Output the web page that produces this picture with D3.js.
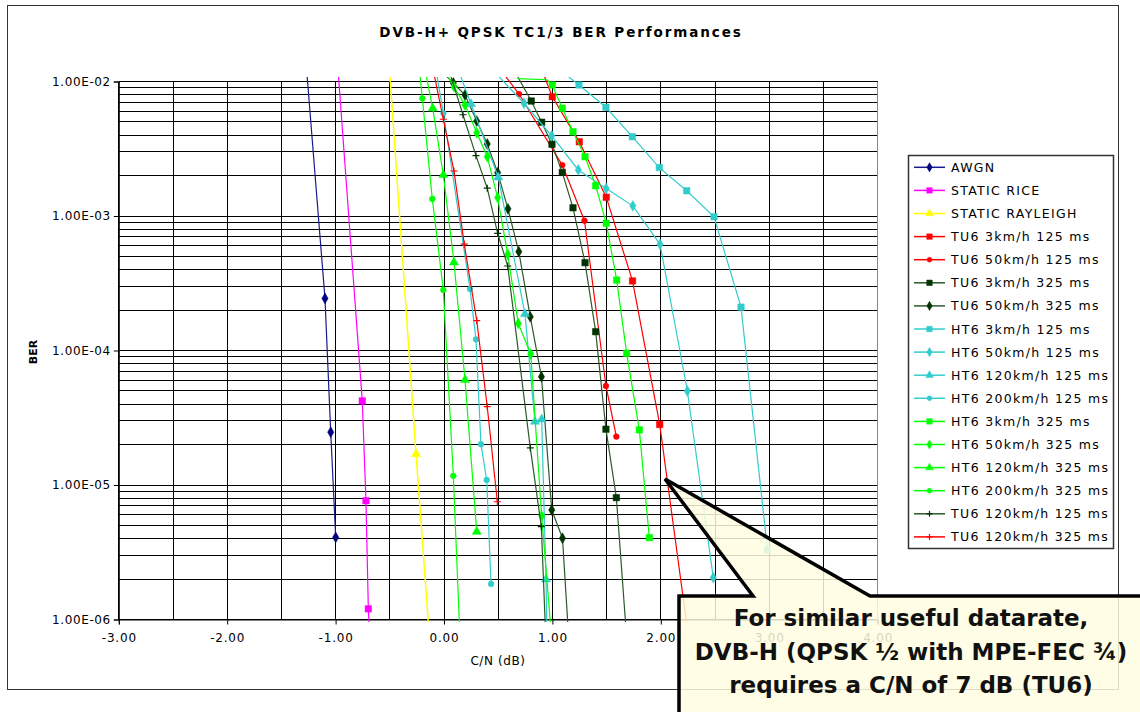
<!DOCTYPE html>
<html>
<head>
<meta charset="utf-8">
<script src="https://cdn.jsdelivr.net/npm/d3@7/dist/d3.min.js"></script>
<style>
  html, body { margin: 0; padding: 0; background: #fff; }
  svg { display: block; font-family: "DejaVu Sans", Verdana, sans-serif; }
</style>
</head>
<body>
<svg id="chart" width="1140" height="712"></svg>
<script>
// ---------------- data ----------------
const chartTitle = "DVB-H+ QPSK TC1/3 BER Performances";
const xLabel = "C/N (dB)";
const yLabel = "BER";
const xTickValues = [-3, -2, -1, 0, 1, 2, 3, 4];
const xTickLabels = ["-3.00", "-2.00", "-1.00", "0.00", "1.00", "2.00", "3.00", "4.00"];
const yTickValues = [1e-2, 1e-3, 1e-4, 1e-5, 1e-6];
const yTickLabels = ["1.00E-02", "1.00E-03", "1.00E-04", "1.00E-05", "1.00E-06"];
const calloutLines = ["For similar useful datarate,", "DVB-H (QPSK \u00BD with MPE-FEC \u00BE)", "requires a C/N of 7 dB (TU6)"];

// [C/N dB, BER] pairs (points beyond the axis range are clipped)
const awgn          = [[-1.27,1.3e-2],[-1.098,2.44e-4],[-1.045,2.47e-5],[-0.999,4.08e-6]];
const staticRice    = [[-0.98,1.3e-2],[-0.754,4.22e-5],[-0.720,7.64e-6],[-0.698,1.2e-6],[-0.675,5e-7]];
const staticRayleigh= [[-0.505,1.3e-2],[-0.258,1.70e-5],[-0.119,5e-7]];
const tu6_3_125     = [[0.89,1.3e-2],[0.999,7.71e-3],[1.248,3.56e-3],[1.497,1.38e-3],[1.739,3.29e-4],[1.990,2.82e-5],[2.284,5e-7]];
const tu6_50_125    = [[0.497,1.3e-2],[0.692,8.07e-3],[1.091,2.39e-3],[1.296,9.22e-4],[1.494,5.45e-5],[1.590,2.29e-5]];
const tu6_3_325     = [[0.626,1.3e-2],[0.805,7.16e-3],[0.901,4.98e-3],[0.996,3.41e-3],[1.091,2.11e-3],[1.190,1.15e-3],[1.301,4.50e-4],[1.399,1.38e-4],[1.494,2.60e-5],[1.590,8.05e-6],[1.70,5e-7]];
const tu6_50_325    = [[-0.07,1.3e-2],[0.086,9.75e-3],[0.194,7.94e-3],[0.302,5.08e-3],[0.399,3.43e-3],[0.495,2.10e-3],[0.590,1.13e-3],[0.690,5.43e-4],[0.796,1.78e-4],[0.899,6.38e-5],[0.994,6.52e-6],[1.093,4.02e-6],[1.163,5e-7]];
const ht6_3_125     = [[1.026,1.3e-2],[1.245,9.42e-3],[1.494,6.43e-3],[1.737,3.89e-3],[1.986,2.29e-3],[2.239,1.54e-3],[2.491,9.88e-4],[2.740,2.10e-4],[2.984,3.29e-6]];
const ht6_50_125    = [[0.415,1.3e-2],[0.738,6.89e-3],[0.994,3.95e-3],[1.239,2.20e-3],[1.496,1.60e-3],[1.742,1.19e-3],[1.993,6.16e-4],[2.245,5.00e-5],[2.484,2.05e-6]];
const ht6_120_125   = [[0.12,1.3e-2],[0.249,6.81e-3],[0.501,1.94e-3],[0.747,1.87e-4],[0.839,2.96e-5],[0.901,3.08e-5],[0.941,1.99e-6],[0.954,5e-7]];
const ht6_200_125   = [[-0.08,1.3e-2],[-0.006,5.81e-3],[0.240,2.86e-4],[0.295,1.21e-4],[0.341,2.01e-5],[0.394,1.09e-5],[0.434,1.84e-6]];
const ht6_3_325     = [[0.68,1.05e-2],[0.95,1.03e-2],[0.999,9.42e-3],[1.091,6.32e-3],[1.190,4.23e-3],[1.301,2.76e-3],[1.399,1.68e-3],[1.497,8.83e-4],[1.593,3.34e-4],[1.685,9.53e-5],[1.802,2.57e-5],[1.894,4.06e-6]];
const ht6_50_325    = [[-0.02,1.3e-2],[0.092,9.15e-3],[0.194,6.68e-3],[0.302,4.16e-3],[0.399,2.76e-3],[0.495,1.37e-3],[0.588,5.19e-4],[0.685,1.59e-4],[0.800,9.42e-5],[0.901,5.89e-6],[1.01,5e-7]];
const ht6_120_325   = [[-0.181,1.3e-2],[-0.104,6.32e-3],[-0.006,2.02e-3],[0.092,4.53e-4],[0.194,6.04e-5],[0.302,4.50e-6]];
const ht6_200_325   = [[-0.23,1.3e-2],[-0.200,7.50e-3],[-0.108,1.34e-3],[-0.006,2.82e-4],[0.086,1.17e-5],[0.156,5e-7]];
const tu6_120_125   = [[0.034,1.3e-2],[0.175,5.66e-3],[0.295,2.81e-3],[0.399,1.61e-3],[0.495,7.43e-4],[0.588,4.25e-4],[0.796,1.89e-5],[0.898,4.90e-6],[0.947,5e-7]];
const tu6_120_325   = [[-0.107,1.3e-2],[-0.006,5.24e-3],[0.092,2.16e-3],[0.187,6.17e-4],[0.302,1.67e-4],[0.399,3.82e-5],[0.492,7.51e-6]];

const seriesNames = ["AWGN","STATIC RICE","STATIC RAYLEIGH","TU6 3km/h 125 ms","TU6 50km/h 125 ms",
  "TU6 3km/h 325 ms","TU6 50km/h 325 ms","HT6 3km/h 125 ms","HT6 50km/h 125 ms","HT6 120km/h 125 ms",
  "HT6 200km/h 125 ms","HT6 3km/h 325 ms","HT6 50km/h 325 ms","HT6 120km/h 325 ms","HT6 200km/h 325 ms",
  "TU6 120km/h 125 ms","TU6 120km/h 325 ms"];
const seriesData = [awgn, staticRice, staticRayleigh, tu6_3_125, tu6_50_125, tu6_3_325, tu6_50_325,
  ht6_3_125, ht6_50_125, ht6_120_125, ht6_200_125, ht6_3_325, ht6_50_325, ht6_120_325, ht6_200_325,
  tu6_120_125, tu6_120_325];

// ---------------- styles ----------------
const seriesColors = ["#000080","#FF00FF","#FFFF00","#FF0000","#FF0000","#003300","#003300",
  "#33CCCC","#33CCCC","#33CCCC","#33CCCC","#00FF00","#00FF00","#00FF00","#00FF00","#003300","#FF0000"];
const seriesLineColors = ["#1a1a8c","#FF00FF","#FFFF00","#FF0000","#FF0000","#2b5a2b","#2b5a2b",
  "#33CCCC","#33CCCC","#33CCCC","#33CCCC","#00FF00","#00FF00","#00FF00","#00FF00","#2b5a2b","#FF0000"];
const seriesMarkers = ["diamond","square","triangle","square","circle","square","diamond",
  "square","diamond","triangle","circle","square","diamond","triangle","circle","plus","plus"];

const W = 1140, H = 712;
const plot = { left: 118.8, right: 877.6, top: 81.5, bottom: 619.5 };

const svg = d3.select("#chart");
svg.append("rect").attr("width", W).attr("height", H).attr("fill", "#fff");
// outer chart frame
svg.append("rect").attr("x", 7.5).attr("y", 5.5).attr("width", 1111).attr("height", 684)
  .attr("fill", "none").attr("stroke", "#333").attr("stroke-width", 1);

const x = d3.scaleLinear().domain([-3, 4]).range([plot.left, plot.right]);
const y = d3.scaleLog().domain([1e-6, 1e-2]).range([plot.bottom, plot.top]);

// plot background
svg.append("rect").attr("x", plot.left).attr("y", plot.top)
  .attr("width", plot.right - plot.left).attr("height", plot.bottom - plot.top).attr("fill", "#fff");

// gridlines
const grid = svg.append("g").attr("stroke", "#000").attr("stroke-width", 1).attr("shape-rendering", "crispEdges");
const vGrid = d3.range(-3, 4.001, 0.5);
grid.selectAll("line.v").data(vGrid).join("line")
  .attr("x1", d => x(d)).attr("x2", d => x(d)).attr("y1", plot.top).attr("y2", plot.bottom);
const hGrid = y.ticks();
grid.selectAll("line.h").data(hGrid).join("line")
  .attr("x1", plot.left).attr("x2", plot.right).attr("y1", d => y(d)).attr("y2", d => y(d));
svg.append("line").attr("x1", plot.right).attr("x2", plot.right).attr("y1", plot.top).attr("y2", plot.bottom)
  .attr("stroke", "#888").attr("shape-rendering", "crispEdges");

// axes
const xAxis = d3.axisBottom(x).tickValues(xTickValues).tickSize(5)
  .tickFormat((d, i) => xTickLabels[i]);
const gx = svg.append("g").attr("transform", `translate(0,${plot.bottom})`).call(xAxis);
gx.select(".domain").attr("stroke", "#000");
gx.selectAll(".tick line").attr("stroke", "#000");
gx.selectAll(".tick text").attr("font-size", 12).attr("letter-spacing", 0.8).attr("fill", "#000")
  .attr("font-family", '"DejaVu Sans", sans-serif').attr("y", 14).attr("dy", "0.71em");

const yAxis = d3.axisLeft(y).tickValues(yTickValues).tickSize(5)
  .tickFormat((d, i) => yTickLabels[i]);
const gy = svg.append("g").attr("transform", `translate(${plot.left},0)`).call(yAxis);
gy.select(".domain").attr("stroke", "#000");
gy.selectAll(".tick line").attr("stroke", "#000");
gy.selectAll(".tick text").attr("font-size", 12).attr("letter-spacing", 0.6).attr("fill", "#000")
  .attr("font-family", '"DejaVu Sans", sans-serif').attr("x", -8);

// titles
svg.append("text").attr("x", 561).attr("y", 36.5).attr("text-anchor", "middle")
  .attr("font-size", 13.5).attr("font-weight", "bold").attr("letter-spacing", 1.9).text(chartTitle);
svg.append("text").attr("x", 498).attr("y", 665).attr("text-anchor", "middle")
  .attr("font-size", 12).attr("letter-spacing", 0.6).text(xLabel);
svg.append("text").attr("transform", "translate(37,352) rotate(-90)").attr("text-anchor", "middle")
  .attr("font-size", 11).attr("font-weight", "bold").text(yLabel);

// clip for series
svg.append("clipPath").attr("id", "plotClip").append("rect")
  .attr("x", plot.left).attr("y", 77).attr("width", plot.right - plot.left).attr("height", 545);

function markerPath(type, scale) {
  const s = scale || 1;
  if (type === "plus") return `M${-3.5*s},0H${3.5*s}M0,${-3.5*s}V${3.5*s}`;
  const map = { diamond: [d3.symbolDiamond, 34], square: [d3.symbolSquare, 42],
                triangle: [d3.symbolTriangle, 36], circle: [d3.symbolCircle, 26] };
  const m = map[type];
  return d3.symbol().type(m[0]).size(m[1] * s * s)();
}

const line = d3.line().x(d => x(d[0])).y(d => y(d[1]));
const series = svg.append("g").attr("clip-path", "url(#plotClip)");
seriesData.forEach((data, i) => {
  const g = series.append("g");
  g.append("path").datum(data).attr("d", line).attr("fill", "none")
    .attr("stroke", seriesLineColors[i]).attr("stroke-width", i === 2 ? 1.5 : 1.2);
  const inRange = data.filter(d => d[1] >= 1e-6 && d[1] <= 1e-2);
  g.selectAll("path.m").data(inRange).join("path").attr("class", "m")
    .attr("transform", d => `translate(${x(d[0])},${y(d[1])})`)
    .attr("d", markerPath(seriesMarkers[i]))
    .attr("fill", seriesMarkers[i] === "plus" ? "none" : seriesColors[i])
    .attr("stroke", seriesColors[i]).attr("stroke-width", seriesMarkers[i] === "plus" ? 1.2 : 0.5);
});

// legend
const leg = svg.append("g");
leg.append("rect").attr("x", 908.5).attr("y", 155.5).attr("width", 205).attr("height", 393)
  .attr("fill", "#fff").attr("stroke", "#333").attr("stroke-width", 1.5);
seriesNames.forEach((name, i) => {
  const ly = 167.3 + i * 23.1;
  leg.append("line").attr("x1", 914).attr("x2", 945).attr("y1", ly).attr("y2", ly)
    .attr("stroke", seriesLineColors[i]).attr("stroke-width", 1.5);
  leg.append("path").attr("transform", `translate(929.5,${ly})`)
    .attr("d", markerPath(seriesMarkers[i], 0.85))
    .attr("fill", seriesMarkers[i] === "plus" ? "none" : seriesColors[i])
    .attr("stroke", seriesColors[i]).attr("stroke-width", seriesMarkers[i] === "plus" ? 1.2 : 0.5);
  leg.append("text").attr("x", 951).attr("y", ly).attr("dy", "0.36em")
    .attr("font-size", 12.5).attr("letter-spacing", 1.3).attr("fill", "#000").text(name);
});

// callout
const callout = svg.append("g");
const pts = [[665,479],[870,596],[1146,596],[1146,716],[679,716],[679,596],[753,596]];
callout.append("path").attr("d", "M" + pts.map(p => p.join(",")).join("L") + "Z")
  .attr("fill", "#fffde0").attr("fill-opacity", 0.84)
  .attr("stroke", "#000").attr("stroke-width", 3.5).attr("stroke-linejoin", "miter");
calloutLines.forEach((t, i) => {
  callout.append("text").attr("x", 911).attr("y", 626 + i * 33.5).attr("text-anchor", "middle")
    .attr("font-size", 23).attr("font-weight", "bold").attr("fill", "#111")
    .attr("font-family", '"DejaVu Sans", sans-serif').text(t);
});
</script>
</body>
</html>
